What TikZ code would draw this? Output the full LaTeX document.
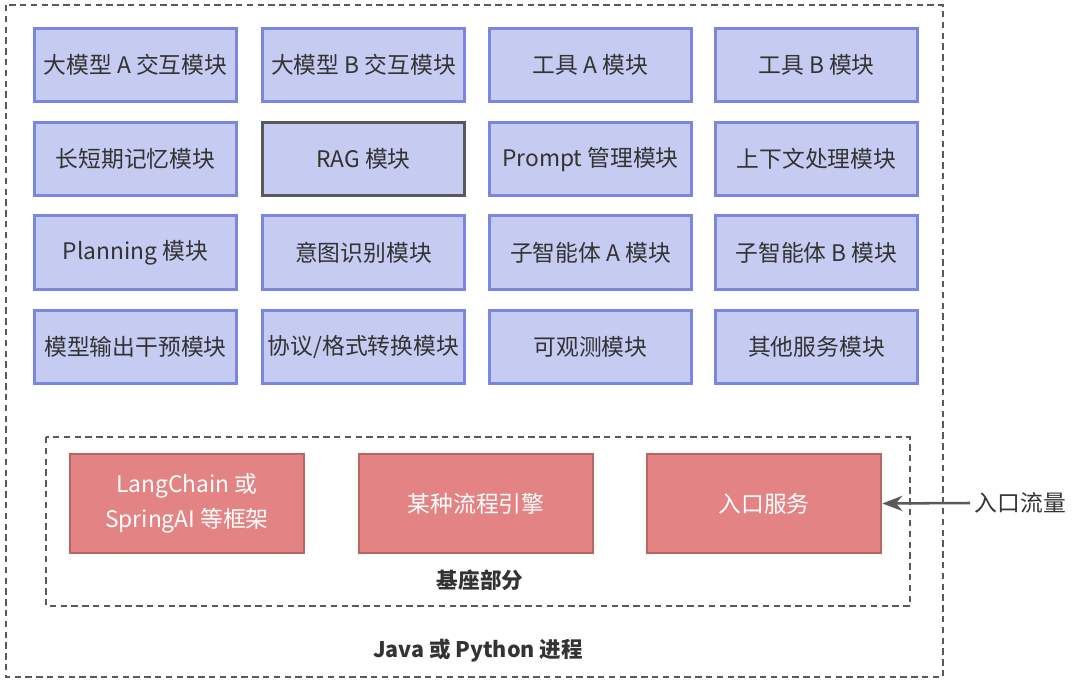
\documentclass[tikz,border=0pt]{standalone}
\usepackage{fontspec}
\setmainfont{Noto Sans CJK SC}
\usepackage{tikz}
\usetikzlibrary{arrows.meta,positioning,calc}
\usepackage{xcolor}
\definecolor{modfill}{HTML}{C5CBF1}
\definecolor{modline}{HTML}{7A86E0}
\definecolor{basefill}{HTML}{E38383}
\definecolor{baseline}{HTML}{B86565}
\definecolor{txt}{HTML}{333333}
\definecolor{dashgray}{HTML}{595959}

\begin{document}
\begin{tikzpicture}[
    x=0.025cm, y=-0.025cm,
    module/.style={rectangle, draw=#1, fill=modfill, line width=2pt, minimum width=5.05cm, minimum height=1.83cm, text=txt, font=\fontsize{16.2}{19}\selectfont},
    module/.default=modline,
    base/.style={rectangle, draw=baseline, fill=basefill, line width=2pt, minimum width=5.85cm, minimum height=2.47cm, text=white, align=center, font=\fontsize{16.2}{25}\selectfont},
    frame/.style={draw=dashgray, line width=1.4pt, dash pattern=on 0.16cm off 0.11cm},
    >={Stealth[length=0.5cm, width=0.38cm]}
]
    \useasboundingbox (0,0) rectangle (1080,682);

    % Outer process frame
    \draw[frame] (6,5) rectangle (943,677);
    \node[font=\fontsize{15.3}{18}\selectfont\bfseries, text=txt] (proc) at (478,651) {Java 或 Python 进程};

    % Module grid
    \node[module] (llmA) at (135.5, 65) {大模型 A 交互模块};
    \node[module] (llmB) at (363.5, 65) {大模型 B 交互模块};
    \node[module] (toolA) at (590.5, 65) {工具 A 模块};
    \node[module] (toolB) at (816.5, 65) {工具 B 模块};

    \node[module] (memory) at (135.5, 159) {长短期记忆模块};
    \node[module=dashgray] (rag) at (363.5, 159) {RAG 模块};
    \node[module] (prompt) at (590.5, 159) {Prompt 管理模块};
    \node[module] (context) at (816.5, 159) {上下文处理模块};

    \node[module] (plan) at (135.5, 252.5) {Planning 模块};
    \node[module] (intent) at (363.5, 252.5) {意图识别模块};
    \node[module] (subA) at (590.5, 252.5) {子智能体 A 模块};
    \node[module] (subB) at (816.5, 252.5) {子智能体 B 模块};

    \node[module] (output) at (135.5, 347) {模型输出干预模块};
    \node[module] (protocol) at (363.5, 347) {协议/格式转换模块};
    \node[module] (observe) at (590.5, 347) {可观测模块};
    \node[module] (other) at (816.5, 347) {其他服务模块};

    % Base part
    \draw[frame] (46,437) rectangle (910,606);
    \node[font=\fontsize{15.3}{18}\selectfont\bfseries, text=txt] (baselbl) at (480,580) {基座部分};
    \node[base] (frameworks) at (187, 503.5) {LangChain 或\\SpringAI 等框架};
    \node[base] (engine) at (476, 503.5) {某种流程引擎};
    \node[base] (entry) at (764, 503.5) {入口服务};

    % Incoming traffic
    \node[text=txt, font=\fontsize{16.2}{19}\selectfont, right] (traffic) at (970, 503) {入口流量};
    \draw[->, draw=dashgray, fill=dashgray, line width=1.8pt] (traffic.west) -- (entry.east);
\end{tikzpicture}
\end{document}
